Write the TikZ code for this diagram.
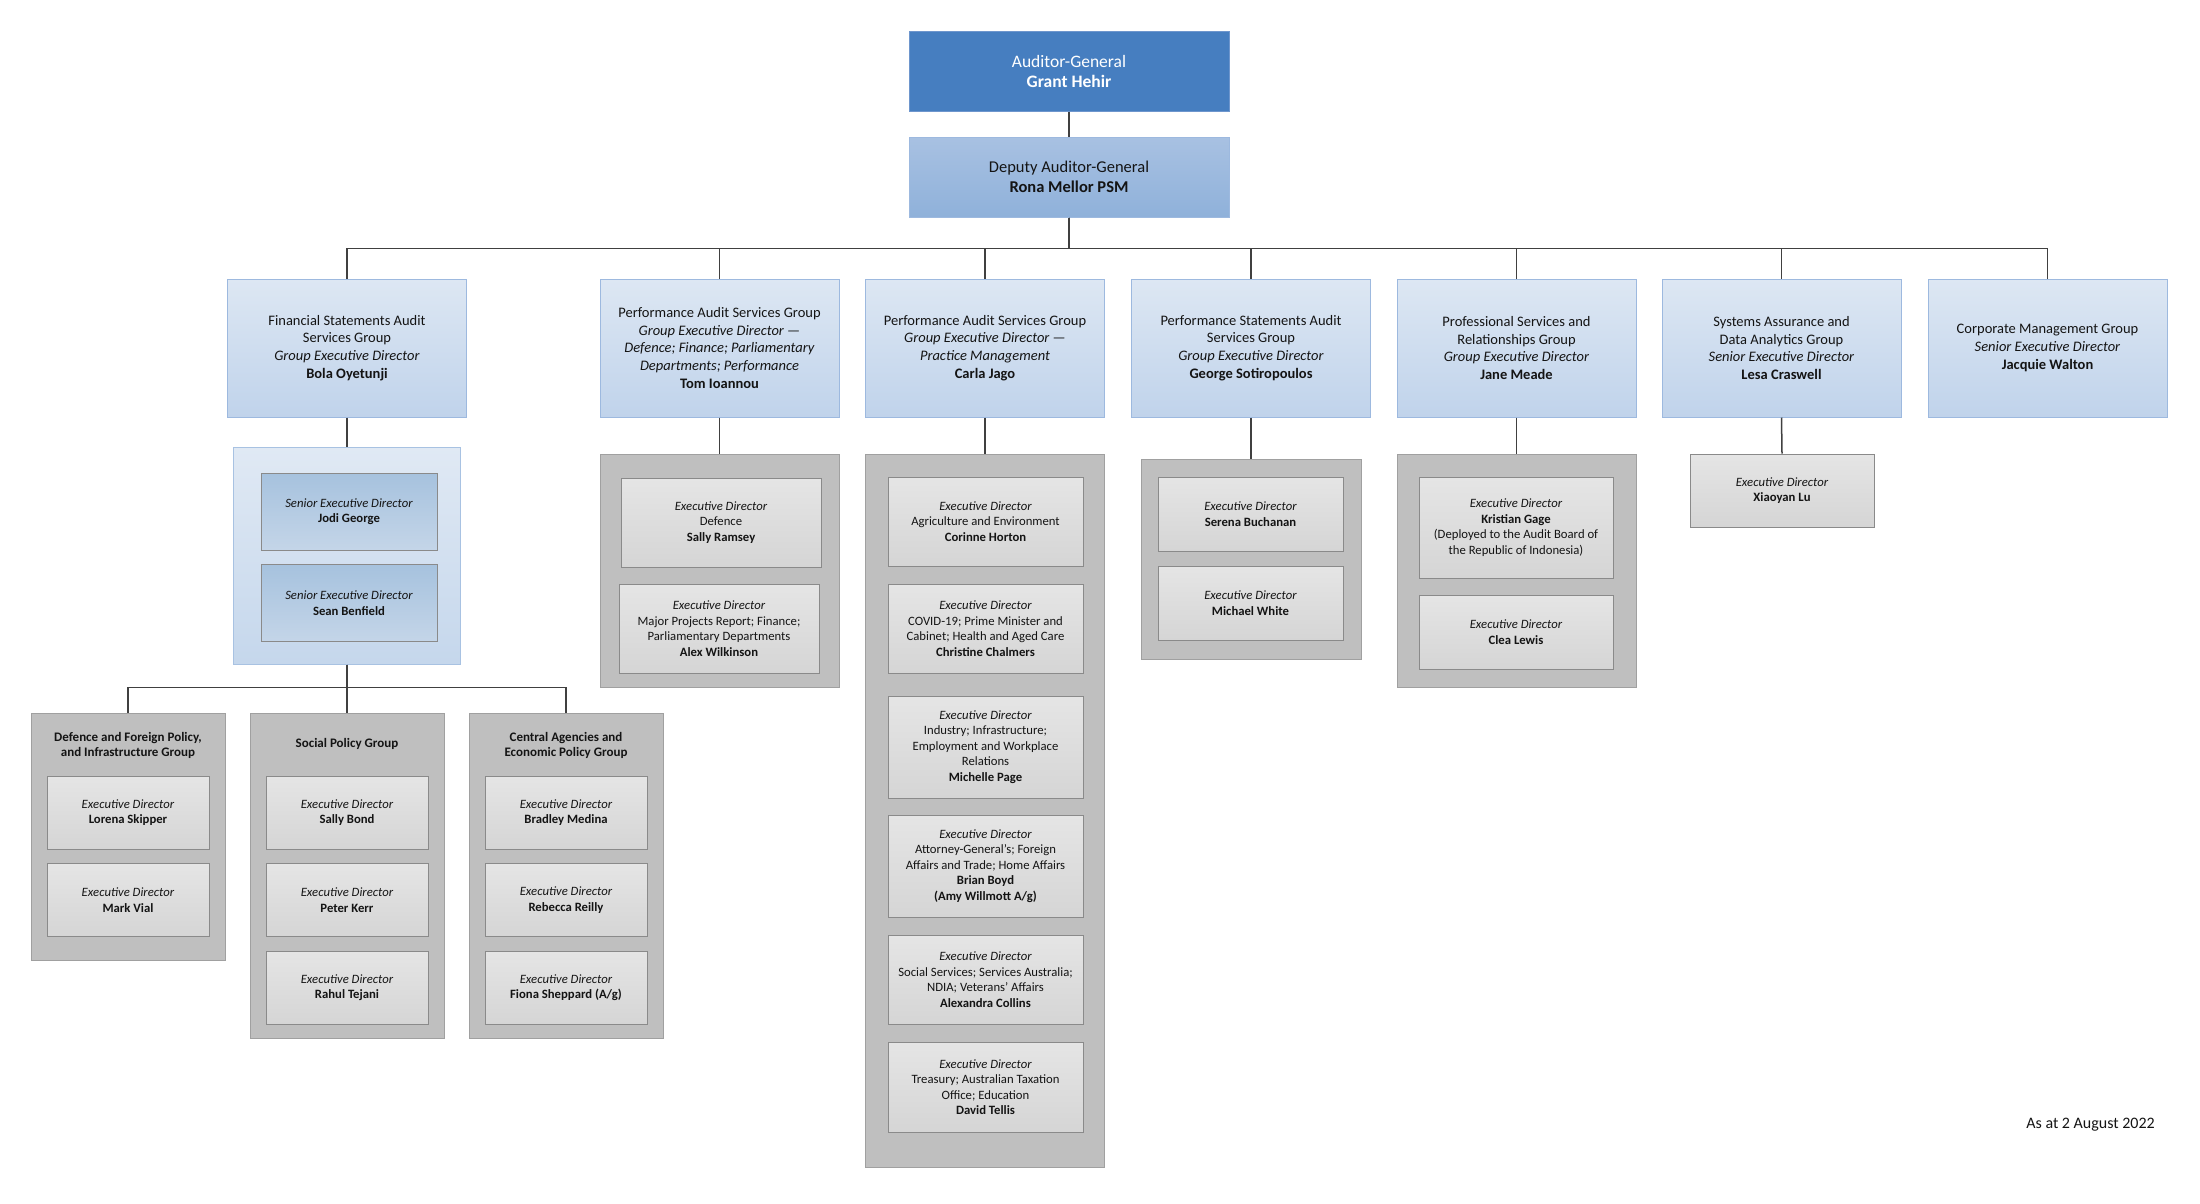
\documentclass[tikz,border=0pt]{standalone}
\usepackage{fontspec}
\setmainfont{Carlito}
\usepackage{tikz}

\definecolor{agblue}{RGB}{70,126,192}
\definecolor{agedge}{RGB}{110,150,205}
\definecolor{dagtop}{RGB}{168,193,226}
\definecolor{dagbot}{RGB}{143,177,218}
\definecolor{grptop}{RGB}{221,231,243}
\definecolor{grpbot}{RGB}{192,211,235}
\definecolor{grpedge}{RGB}{157,185,223}
\definecolor{sentop}{RGB}{224,233,244}
\definecolor{senbot}{RGB}{197,215,236}
\definecolor{senedge}{RGB}{168,194,226}
\definecolor{sedtop}{RGB}{166,194,222}
\definecolor{sedbot}{RGB}{196,213,232}
\definecolor{teamgrey}{RGB}{191,191,191}
\definecolor{teamedge}{RGB}{160,160,160}
\definecolor{edtop}{RGB}{229,229,229}
\definecolor{edbot}{RGB}{213,213,213}
\definecolor{ededge}{RGB}{138,138,138}
\definecolor{linegrey}{RGB}{64,64,64}
\definecolor{txt}{RGB}{20,20,20}

\tikzset{
  link/.style={draw=linegrey, line width=1.5pt},
  agbox/.style={draw=agedge, line width=1pt, fill=agblue, text=white, minimum width=320pt, minimum height=80pt, inner sep=0pt, align=center, font=\fontsize{17.5}{20}\selectfont},
  dagbox/.style={draw=grpedge, line width=1pt, top color=dagtop, bottom color=dagbot, text=txt, minimum width=320pt, minimum height=80pt, inner sep=0pt, align=center, font=\fontsize{16.5}{19.5}\selectfont},
  grpbox/.style={draw=grpedge, line width=1pt, top color=grptop, bottom color=grpbot, text=txt, minimum width=239pt, minimum height=138pt, inner sep=0pt, align=center, font=\fontsize{14.5}{17.7}\selectfont},
  senbox/.style={draw=senedge, line width=1pt, top color=sentop, bottom color=senbot, inner sep=0pt},
  sedbox/.style={draw=ededge, line width=1pt, top color=sedtop, bottom color=sedbot, text=txt, minimum width=176pt, minimum height=77pt, inner sep=0pt, align=center, font=\fontsize{12.7}{15.5}\selectfont},
  teambox/.style={draw=teamedge, line width=1pt, fill=teamgrey, inner sep=0pt},
  teamtitle/.style={text=txt, align=center, inner sep=0pt, font=\fontsize{13}{15}\selectfont\bfseries},
  edbox/.style={draw=ededge, line width=1pt, top color=edtop, bottom color=edbot, text=txt, inner sep=0pt, align=center, font=\fontsize{12.7}{15.5}\selectfont},
}

\begin{document}
\begin{tikzpicture}[x=1pt,y=-1pt]
\useasboundingbox (0,0) rectangle (2200,1203);

\node[agbox] (ag) at (1069,71) {Auditor-General\\\textbf{Grant Hehir}};
\node[dagbox] (dag) at (1069,177) {Deputy Auditor-General\\\textbf{Rona Mellor PSM}};

\node[grpbox] (fsa) at (347,348) {Financial Statements Audit\\Services Group\\\textit{Group Executive Director}\\\textbf{Bola Oyetunji}};
\node[grpbox] (pasd) at (719.5,348) {Performance Audit Services Group\\\textit{Group Executive Director —}\\\textit{Defence; Finance; Parliamentary}\\\textit{Departments; Performance}\\\textbf{Tom Ioannou}};
\node[grpbox] (pasp) at (985,348) {Performance Audit Services Group\\\textit{Group Executive Director —}\\\textit{Practice Management}\\\textbf{Carla Jago}};
\node[grpbox] (psa) at (1251,348) {Performance Statements Audit\\Services Group\\\textit{Group Executive Director}\\\textbf{George Sotiropoulos}};
\node[grpbox] (psr) at (1516.5,348) {Professional Services and\\Relationships Group\\\textit{Group Executive Director}\\\textbf{Jane Meade}};
\node[grpbox] (sada) at (1781.5,348) {Systems Assurance and\\Data Analytics Group\\\textit{Senior Executive Director}\\\textbf{Lesa Craswell}};
\node[grpbox] (cmg) at (2047.5,348) {Corporate Management Group\\\textit{Senior Executive Director}\\\textbf{Jacquie Walton}};

% financial statements side
\node[senbox, minimum width=227pt, minimum height=217pt] (sen) at (347,555.5) {};
\node[sedbox] (jodi) at (349,511.5) {\textit{Senior Executive Director}\\\textbf{Jodi George}};
\node[sedbox] (sean) at (349,603) {\textit{Senior Executive Director}\\\textbf{Sean Benfield}};

\node[teambox, minimum width=194pt, minimum height=247pt] (dfp) at (128,836.5) {};
\node[teambox, minimum width=194pt, minimum height=325pt] (spg) at (347,875.5) {};
\node[teambox, minimum width=194pt, minimum height=325pt] (caep) at (566,875.5) {};
\node[teamtitle] (dfpt) at (128,745.5) {Defence and Foreign Policy,\\and Infrastructure Group};
\node[teamtitle] (spgt) at (347,744) {Social Policy Group};
\node[teamtitle] (caept) at (566,745.5) {Central Agencies and\\Economic Policy Group};

\node[edbox, minimum width=162pt, minimum height=73pt] (lorena) at (128,812.5) {\textit{Executive Director}\\\textbf{Lorena Skipper}};
\node[edbox, minimum width=162pt, minimum height=73pt] (mark) at (128,900) {\textit{Executive Director}\\\textbf{Mark Vial}};
\node[edbox, minimum width=162pt, minimum height=73pt] (sallyb) at (347,812.5) {\textit{Executive Director}\\\textbf{Sally Bond}};
\node[edbox, minimum width=162pt, minimum height=73pt] (peter) at (347,900) {\textit{Executive Director}\\\textbf{Peter Kerr}};
\node[edbox, minimum width=162pt, minimum height=73pt] (rahul) at (347,987.5) {\textit{Executive Director}\\\textbf{Rahul Tejani}};
\node[edbox, minimum width=162pt, minimum height=73pt] (bradley) at (566,812.5) {\textit{Executive Director}\\\textbf{Bradley Medina}};
\node[edbox, minimum width=162pt, minimum height=73pt] (rebecca) at (566,900) {\textit{Executive Director}\\\textbf{Rebecca Reilly}};
\node[edbox, minimum width=162pt, minimum height=73pt] (fiona) at (566,987.5) {\textit{Executive Director}\\\textbf{Fiona Sheppard (A/g)}};

% performance audit, defence
\node[teambox, minimum width=239pt, minimum height=233pt] (tomteam) at (719.5,570.5) {};
\node[edbox, minimum width=200pt, minimum height=89pt] (sallyr) at (721,522.5) {\textit{Executive Director}\\Defence\\\textbf{Sally Ramsey}};
\node[edbox, minimum width=200pt, minimum height=89pt] (alex) at (719,628.5) {\textit{Executive Director}\\Major Projects Report; Finance;\\Parliamentary Departments\\\textbf{Alex Wilkinson}};

% performance audit, practice management
\node[teambox, minimum width=239pt, minimum height=713pt] (carlateam) at (985,810.5) {};
\node[edbox, minimum width=195pt, minimum height=89pt] (corinne) at (985.5,521.5) {\textit{Executive Director}\\Agriculture and Environment\\\textbf{Corinne Horton}};
\node[edbox, minimum width=195pt, minimum height=89pt] (christine) at (985.5,628.5) {\textit{Executive Director}\\COVID-19; Prime Minister and\\Cabinet; Health and Aged Care\\\textbf{Christine Chalmers}};
\node[edbox, minimum width=195pt, minimum height=102pt] (michelle) at (985.5,747) {\textit{Executive Director}\\Industry; Infrastructure;\\Employment and Workplace\\Relations\\\textbf{Michelle Page}};
\node[edbox, minimum width=195pt, minimum height=102pt] (brian) at (985.5,866) {\textit{Executive Director}\\Attorney-General’s; Foreign\\Affairs and Trade; Home Affairs\\\textbf{Brian Boyd}\\\textbf{(Amy Willmott A/g)}};
\node[edbox, minimum width=195pt, minimum height=89pt] (alexandra) at (985.5,979.5) {\textit{Executive Director}\\Social Services; Services Australia;\\NDIA; Veterans’ Affairs\\\textbf{Alexandra Collins}};
\node[edbox, minimum width=195pt, minimum height=90pt] (david) at (985.5,1087) {\textit{Executive Director}\\Treasury; Australian Taxation\\Office; Education\\\textbf{David Tellis}};

% performance statements
\node[teambox, minimum width=220pt, minimum height=200pt] (georgeteam) at (1251,559) {};
\node[edbox, minimum width=185pt, minimum height=74pt] (serena) at (1250.5,514) {\textit{Executive Director}\\\textbf{Serena Buchanan}};
\node[edbox, minimum width=185pt, minimum height=74pt] (michael) at (1250.5,603) {\textit{Executive Director}\\\textbf{Michael White}};

% professional services
\node[teambox, minimum width=239pt, minimum height=233pt] (janeteam) at (1516.5,570.5) {};
\node[edbox, minimum width=194pt, minimum height=101pt] (kristian) at (1516,527.5) {\textit{Executive Director}\\\textbf{Kristian Gage}\\(Deployed to the Audit Board of\\the Republic of Indonesia)};
\node[edbox, minimum width=194pt, minimum height=74pt] (clea) at (1516,632) {\textit{Executive Director}\\\textbf{Clea Lewis}};

% systems assurance
\node[edbox, minimum width=184pt, minimum height=73pt] (xiaoyan) at (1782,490.5) {\textit{Executive Director}\\\textbf{Xiaoyan Lu}};

\node[anchor=east, inner sep=0pt, text=txt, font=\fontsize{16}{19}\selectfont] (date) at (2155,1125) {As at 2 August 2022};

\draw[link] (ag.south) -- (dag.north);
\foreach \g in {fsa,pasd,pasp,psa,psr,sada,cmg}
  \draw[link] (dag.south) -- ++(0,31) -| (\g.north);
\draw[link] (fsa.south) -- (sen.north);
\draw[link] (pasd.south) -- (tomteam.north);
\draw[link] (pasp.south) -- (carlateam.north);
\draw[link] (psa.south) -- (georgeteam.north);
\draw[link] (psr.south) -- (janeteam.north);
\draw[link] (sada.south) -- (xiaoyan.north);
\foreach \g in {dfp,spg,caep}
  \draw[link] (sen.south) -- ++(0,23) -| (\g.north);

\end{tikzpicture}
\end{document}
